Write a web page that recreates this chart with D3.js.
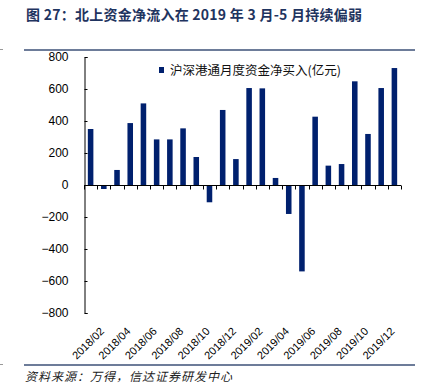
<!DOCTYPE html>
<html>
<head>
<meta charset="utf-8">
<script src="https://cdn.jsdelivr.net/npm/d3@7"></script>
<style>
html,body{margin:0;padding:0;background:#fff;}
svg{display:block;}
</style>
</head>
<body>
<script>
const months = ["2018/01","2018/02","2018/03","2018/04","2018/05","2018/06","2018/07","2018/08","2018/09","2018/10","2018/11","2018/12",
"2019/01","2019/02","2019/03","2019/04","2019/05","2019/06","2019/07","2019/08","2019/09","2019/10","2019/11","2019/12"];
const netBuy = [350,-25,94,387,510,285,285,354,175,-108,469,162,606,604,44,-181,-540,427,121,131,648,319,606,731];
const yTicks = [-800,-600,-400,-200,0,200,400,600,800];
const xLabels = months.filter((m,i)=>i%2===1);
const seriesName = "沪深港通月度资金净买入(亿元)";
const titleText = "图 27：北上资金净流入在 2019 年 3 月-5 月持续偏弱";
const sourceText = "资料来源：万得，信达证券研发中心";

const W = 432, H = 390;
const svg = d3.select("body").append("svg").attr("width", W).attr("height", H);

const navy = "#00206e";
const lineCol = "#3d5177";

// title
svg.append("text").attr("x", 26).attr("y", 20)
  .attr("font-family", "'Noto Sans CJK SC', sans-serif").attr("font-weight", "bold")
  .attr("font-size", 14).attr("textLength", 336).attr("lengthAdjust", "spacing")
  .attr("fill", "#1f3460").text(titleText);

// frame lines
svg.append("line").attr("x1", 24).attr("x2", 415).attr("y1", 50).attr("y2", 50)
  .attr("stroke", lineCol).attr("stroke-width", 1.5);
svg.append("line").attr("x1", 24).attr("x2", 415).attr("y1", 365).attr("y2", 365)
  .attr("stroke", lineCol).attr("stroke-width", 1.5);
svg.append("line").attr("x1", 0).attr("x2", 3).attr("y1", 49.5).attr("y2", 49.5).attr("stroke", "#999");
svg.append("line").attr("x1", 0).attr("x2", 3).attr("y1", 364.5).attr("y2", 364.5).attr("stroke", "#999");

// footer
svg.append("text").attr("x", 25).attr("y", 381)
  .attr("font-family", "'Noto Sans CJK SC', sans-serif").attr("font-style", "italic")
  .attr("font-size", 12).attr("letter-spacing", 1).attr("fill", "#222").text(sourceText);

const x = d3.scaleBand().domain(months).range([84, 401]).paddingInner(0.58).paddingOuter(0.29);
const y = d3.scaleLinear().domain([-800, 800]).range([313, 57]);

// bars
svg.append("g").selectAll("rect").data(months).join("rect")
  .attr("x", d => x(d))
  .attr("width", x.bandwidth())
  .attr("y", (d,i) => y(Math.max(0, netBuy[i])))
  .attr("height", (d,i) => Math.abs(y(netBuy[i]) - y(0)))
  .attr("fill", navy);

// y axis
const yAxis = svg.append("g").attr("transform", "translate(84.5,0)")
  .call(d3.axisLeft(y).tickValues(yTicks).tickSize(-3).tickPadding(16));
yAxis.select(".domain").attr("stroke", "#000");
yAxis.selectAll(".tick line").attr("stroke", "#000");
yAxis.selectAll("text").attr("font-family", "'Liberation Sans', Arial, sans-serif")
  .attr("font-size", 12).attr("fill", "#000");

// x axis at zero
const tickPos = d3.range(months.length + 1).map(i => 84 + i * (317 / months.length));
const zeroY = Math.round(y(0)) + 0.5;
svg.append("line").attr("x1", 84).attr("x2", 401).attr("y1", zeroY).attr("y2", zeroY).attr("stroke", "#000");
svg.append("g").selectAll("line").data(tickPos).join("line")
  .attr("x1", d => Math.round(d) + 0.5).attr("x2", d => Math.round(d) + 0.5)
  .attr("y1", zeroY).attr("y2", zeroY + 4).attr("stroke", "#000");

// x labels
svg.append("g").selectAll("text").data(xLabels).join("text")
  .attr("transform", d => `translate(${x(d) + x.bandwidth()/2 + 1},332) rotate(-45)`)
  .attr("text-anchor", "end")
  .attr("font-family", "'Liberation Sans', Arial, sans-serif")
  .attr("font-size", 11).attr("fill", "#000").text(d => d);

// legend
svg.append("rect").attr("x", 159).attr("y", 67).attr("width", 5).attr("height", 6).attr("fill", navy);
svg.append("text").attr("x", 170).attr("y", 75)
  .attr("font-family", "'Noto Sans CJK SC', sans-serif")
  .attr("font-size", 12.5).attr("fill", "#111").text(seriesName);
</script>
</body>
</html>
